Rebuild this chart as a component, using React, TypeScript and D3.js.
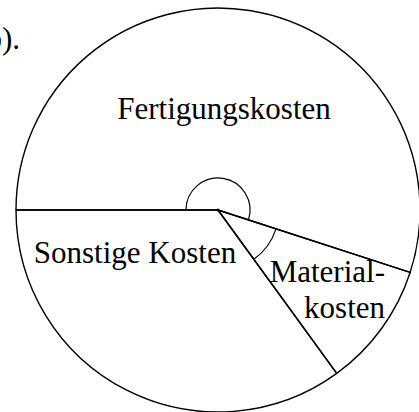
import React from "react";
import * as d3 from "d3";

const categories = ["Fertigungskosten", "Materialkosten", "Sonstige Kosten"];
const shares = [55, 10, 35];

const W = 419;
const H = 412;
const cx = 218;
const cy = 210;
const R = 202;

const font = "Liberation Serif";

export default function App() {
  const pie = d3
    .pie<number>()
    .sort(null)
    .startAngle(-Math.PI / 2)
    .endAngle((3 * Math.PI) / 2)
    .value((d) => d);
  const arcs = pie(shares);
  const sliceArc = d3.arc<d3.PieArcDatum<number>>().innerRadius(0).outerRadius(R);
  const markRadii = [32, 61, 0];

  const ts: React.CSSProperties = { fontFamily: font, fontSize: "31px" };

  return (
    <svg
      width={W}
      height={H}
      style={{ position: "absolute", left: 0, top: 0, background: "#fff" }}
    >
      <text x={20} y={49} style={ts} textAnchor="end" fill="#000">
        (b).
      </text>
      <g transform={`translate(${cx},${cy})`}>
        {arcs.map((a, i) => (
          <path
            key={categories[i]}
            d={sliceArc(a) || ""}
            fill="none"
            stroke="#000"
            strokeWidth={1.4}
            strokeLinejoin="round"
          />
        ))}
        {arcs.map((a, i) =>
          markRadii[i] > 0 ? (
            <path
              key={"m" + i}
              d={
                d3
                  .arc<d3.PieArcDatum<number>>()
                  .innerRadius(markRadii[i])
                  .outerRadius(markRadii[i])(a) || ""
              }
              fill="none"
              stroke="#000"
              strokeWidth={1.2}
            />
          ) : null
        )}
        <circle r={1.6} fill="#000" />
      </g>
      <text x={224} y={119} style={ts} textAnchor="middle" fill="#000">
        {categories[0]}
      </text>
      <text x={135} y={263} style={ts} textAnchor="middle" fill="#000">
        {categories[2]}
      </text>
      <text x={385} y={282} style={ts} textAnchor="end" fill="#000">
        Material-
      </text>
      <text x={385} y={318} style={ts} textAnchor="end" fill="#000">
        kosten
      </text>
    </svg>
  );
}
